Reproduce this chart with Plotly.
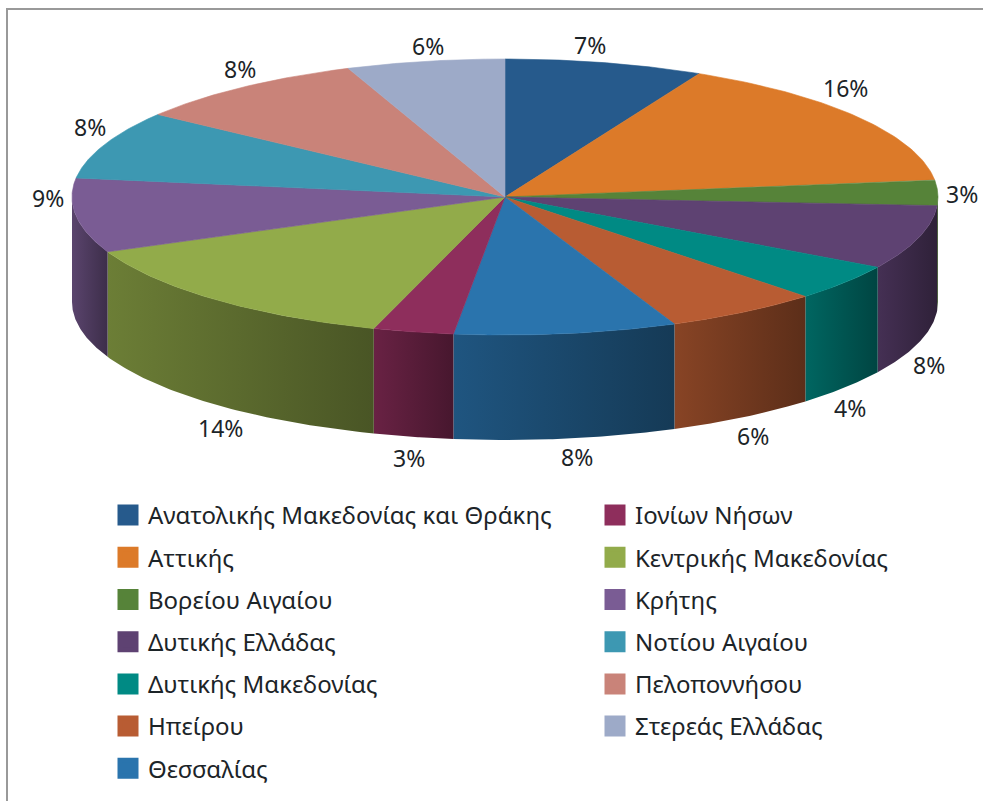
import numpy as np
import plotly.graph_objects as go

regions = ["Ανατολικής Μακεδονίας και Θράκης", "Αττικής", "Βορείου Αιγαίου", "Δυτικής Ελλάδας",
           "Δυτικής Μακεδονίας", "Ηπείρου", "Θεσσαλίας", "Ιονίων Νήσων", "Κεντρικής Μακεδονίας",
           "Κρήτης", "Νοτίου Αιγαίου", "Πελοποννήσου", "Στερεάς Ελλάδας"]
slice_values = [7.4, 15.6, 3.0, 7.5, 4.3, 5.8, 8.3, 3.0, 13.6, 8.7, 8.0, 8.9, 5.9]
percent_labels = ["7%", "16%", "3%", "8%", "4%", "6%", "8%", "3%", "14%", "9%", "8%", "8%", "6%"]
colors = ["#265a8c", "#dc7a29", "#568339", "#5e4272", "#008a84", "#b85c33", "#2a74ad",
          "#8e2e5c", "#92ab4a", "#7a5c94", "#3d98b2", "#c98379", "#9daac8"]
label_shift_x = [-15, -13, 24, 10, 5, 9, 11, -4, 6, -28, -14, -3, 3]
label_shift_y = [-18, -29, 1, 22, 20, 19, 18, 21, 24, -18, -18, -18, -15]

W, H = 983, 801
LEFT, TOP = 8, 10
CX, CY, RX, RY, DEPTH = 505, 197, 433, 138, 105
FONT = "Noto Sans"
TEXT = "#1c2428"


def shade(hex_color, f):
    r, g, b = (int(hex_color[i:i + 2], 16) for i in (1, 3, 5))
    return f"rgb({int(r * f)},{int(g * f)},{int(b * f)})"


def rim(a0, a1, n=60):
    t = np.radians(np.linspace(a0, a1, n))
    return CX + RX * np.sin(t), CY - RY * np.cos(t)


edges = np.cumsum([0] + slice_values) / sum(slice_values) * 360
fig = go.Figure()

# side walls, only where the lower rim faces the viewer
for i, name in enumerate(regions):
    a0, a1 = max(edges[i], 90), min(edges[i + 1], 270)
    if a1 <= a0:
        continue
    x, y = rim(a0, a1)
    fig.add_trace(go.Scatter(
        x=np.r_[x, x[::-1]], y=np.r_[y, y[::-1] + DEPTH], mode="lines", fill="toself",
        line=dict(width=0), showlegend=False, hoverinfo="skip",
        fillgradient=dict(type="horizontal", colorscale=[[0, shade(colors[i], 0.74)], [1, shade(colors[i], 0.5)]]),
    ))

# top faces
for i, name in enumerate(regions):
    x, y = rim(edges[i], edges[i + 1])
    fig.add_trace(go.Scatter(
        x=np.r_[CX, x, CX], y=np.r_[CY, y, CY], mode="lines", fill="toself", fillcolor=colors[i],
        line=dict(width=0.6, color=colors[i]), showlegend=False, name=name, hoverinfo="name",
    ))

# legend entries, split in two columns
for i, name in enumerate(regions):
    fig.add_trace(go.Scatter(
        x=[None], y=[None], mode="markers", name=name, legendgroup=name,
        legend="legend" if i < 7 else "legend2",
        marker=dict(symbol="square", size=16, color=colors[i], line=dict(width=5, color=colors[i])),
    ))

annotations = []
for i, lab in enumerate(percent_labels):
    mid = np.radians((edges[i] + edges[i + 1]) / 2)
    ax = CX + RX * np.sin(mid)
    ay = CY - RY * np.cos(mid) + (DEPTH if -np.cos(mid) > 0.2 else 0)
    annotations.append(dict(x=ax, y=ay, text=lab, showarrow=False, xshift=label_shift_x[i],
                            yshift=-label_shift_y[i], font=dict(family=FONT, size=23, color=TEXT)))


def legend_box(px, py):
    return dict(x=(px - LEFT) / (W - LEFT), y=1 - (py - TOP) / (H - TOP), xanchor="left", yanchor="top",
                bgcolor="rgba(0,0,0,0)", tracegroupgap=8, itemclick=False, itemdoubleclick=False,
                font=dict(family=FONT, size=24, color=TEXT))


fig.update_layout(
    width=W, height=H, margin=dict(l=LEFT, r=0, t=TOP, b=0, autoexpand=False),
    paper_bgcolor="white", plot_bgcolor="white", annotations=annotations,
    legend=legend_box(108, 493), legend2=legend_box(595, 493),
    xaxis=dict(range=[LEFT, W], visible=True, showgrid=False, zeroline=False, showticklabels=False, ticks="",
               showline=True, linecolor="#999999", linewidth=1.5, side="top"),
    yaxis=dict(range=[H, TOP], showgrid=False, zeroline=False, showticklabels=False, ticks="",
               showline=True, linecolor="#999999", linewidth=1.5),
)
fig.write_html("out.html", config={"displayModeBar": False},
               post_script="document.body.style.margin='0';document.documentElement.style.overflow='hidden';")
